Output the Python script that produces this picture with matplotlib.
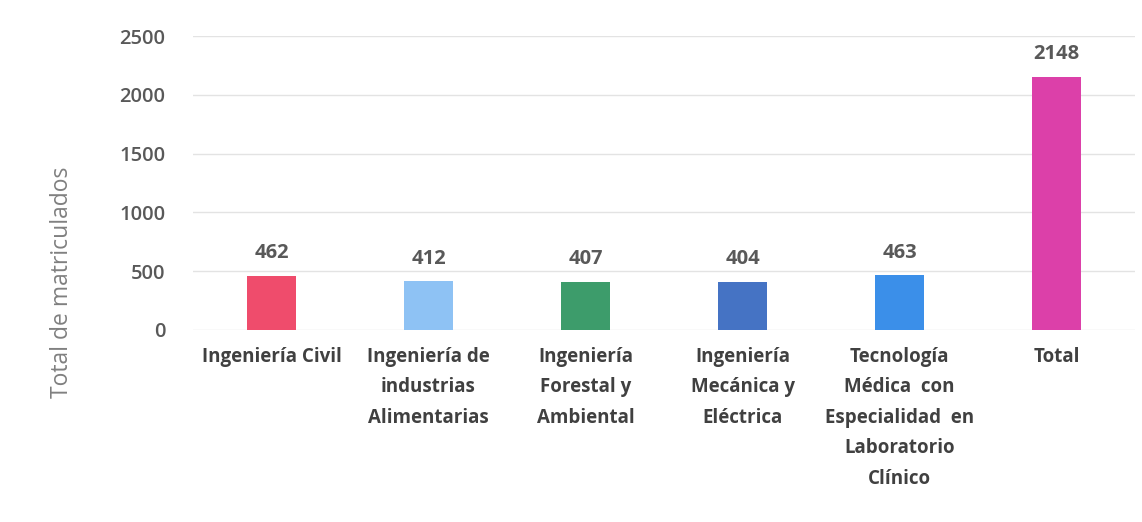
import matplotlib.pyplot as plt

# Datos del gráfico
carreras = ["Ingeniería Civil", "Ingeniería de\nindustrias\nAlimentarias",
            "Ingeniería\nForestal y\nAmbiental", "Ingeniería\nMecánica y\nEléctrica",
            "Tecnología\nMédica  con\nEspecialidad  en\nLaboratorio\nClínico", "Total"]
matriculados = [462, 412, 407, 404, 463, 2148]
colores = ["#ef4c6c", "#8ec2f4", "#3d9c6b", "#4573c4", "#3b8fe9", "#dc40a9"]
y_ticks = [0, 500, 1000, 1500, 2000, 2500]

plt.rcParams['font.family'] = ['Open Sans', 'DejaVu Sans']

fig = plt.figure(figsize=(11.42, 5.22), dpi=100)
ax = fig.add_axes([0.169, 0.368, 0.825, 0.563])

x = range(len(carreras))
ax.bar(x, matriculados, width=0.31, color=colores, zorder=3)

# Etiquetas de valor
for i, v in enumerate(matriculados):
    ax.text(i, v + 110, str(v), ha='center', va='bottom', fontsize=14.5,
            fontweight='bold', color='#595959')

ax.set_xlim(-0.5, len(carreras) - 0.5)
ax.set_ylim(0, 2500)
ax.set_yticks(y_ticks)
ax.set_yticklabels([str(t) for t in y_ticks], fontsize=14.5, color='#595959',
                   fontweight='semibold')
ax.set_xticks(list(x))
ax.set_xticklabels(carreras, fontsize=13.5, fontweight='bold', color='#404040',
                   linespacing=1.7, va='top')
ax.tick_params(axis='x', length=0, pad=12)
ax.tick_params(axis='y', length=0, pad=20)

ax.grid(axis='y', color='#e3e3e3', linewidth=1, zorder=0)
for s in ax.spines.values():
    s.set_visible(False)

fig.text(0.054, 0.46, "Total de matriculados", rotation=90, ha='center',
         va='center', fontsize=16.5, color='#808080')

fig.savefig("out.png", dpi=100)
